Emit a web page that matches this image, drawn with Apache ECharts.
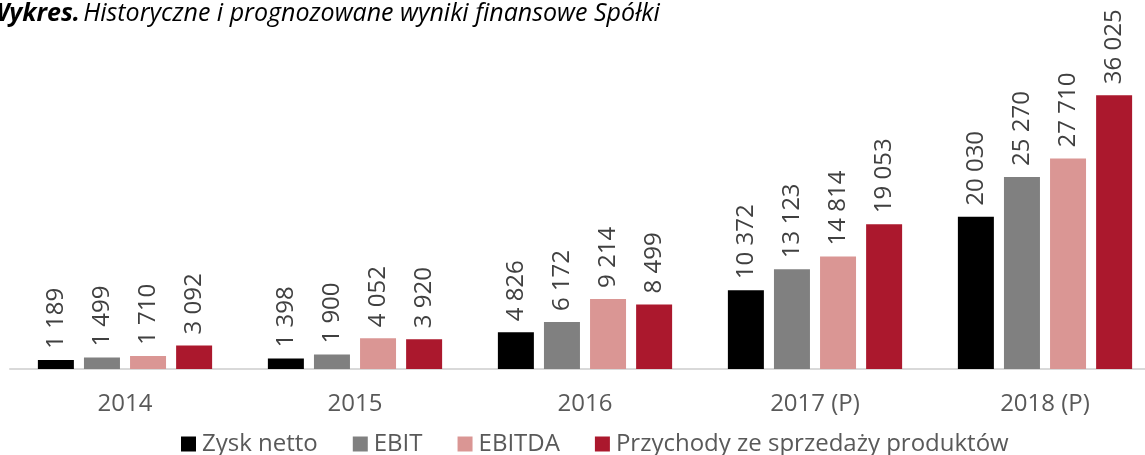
<!DOCTYPE html>
<html><head><meta charset="utf-8">
<script src="https://cdn.jsdelivr.net/npm/echarts@6/dist/echarts.min.js"></script>
<style>html,body{margin:0;padding:0;background:#fff}#c{width:1145px;height:455px}</style>
</head><body><div id="c"></div>
<script>
const categories = ['2014', '2015', '2016', '2017 (P)', '2018 (P)'];
const seriesNames = ['Zysk netto', 'EBIT', 'EBITDA', 'Przychody ze sprzedaży produktów'];
const zyskNetto = [1189, 1398, 4826, 10372, 20030];
const ebit = [1499, 1900, 6172, 13123, 25270];
const ebitda = [1710, 4052, 9214, 14814, 27710];
const przychody = [3092, 3920, 8499, 19053, 36025];
const colors = ['#000000', '#808080', '#da9694', '#ab182d'];

const fmt = v => String(v).replace(/\B(?=(\d{3})+(?!\d))/g, ' ');
const font = '"Open Sans", "Noto Sans", sans-serif';
const data = [zyskNetto, ebit, ebitda, przychody];

const chart = echarts.init(document.getElementById('c'));
chart.setOption({
  animation: false,
  textStyle: { fontFamily: font },
  graphic: [{
    type: 'text', left: -13, top: 1,
    style: {
      text: '{b|Wykres.} {i|Historyczne i prognozowane wyniki finansowe Spółki}',
      rich: {
        b: { fontFamily: font, fontSize: 25, fontWeight: 'bold', fontStyle: 'italic', fill: '#000' },
        i: { fontFamily: font, fontSize: 25, fontStyle: 'italic', fill: '#000' }
      }
    }
  }],
  legend: {
    left: 176, top: 427, itemWidth: 15, itemHeight: 15, itemGap: 35,
    icon: 'rect',
    textStyle: { fontFamily: font, fontSize: 24, color: '#595959', padding: [0, 0, 0, 1] },
    data: seriesNames
  },
  grid: { left: 10, width: 1150, top: 65, bottom: 86, outerBoundsMode: 'none', containLabel: false },
  xAxis: {
    type: 'category', data: categories,
    axisTick: { show: false },
    axisLine: { lineStyle: { color: '#d9d9d9', width: 2 } },
    axisLabel: { fontFamily: font, fontSize: 24, color: '#595959', margin: 23 }
  },
  yAxis: { type: 'value', min: 0, max: 40000, show: false, splitLine: { show: false } },
  series: seriesNames.map((n, i) => ({
    name: n, type: 'bar', data: data[i], barWidth: 36, barGap: '28%',
    itemStyle: { color: colors[i] },
    label: {
      show: true, position: 'top', rotate: 90, distance: 11,
      align: 'left', verticalAlign: 'middle',
      fontFamily: font, fontSize: 24, color: '#404040',
      formatter: p => fmt(p.value)
    }
  }))
});
</script></body></html>
